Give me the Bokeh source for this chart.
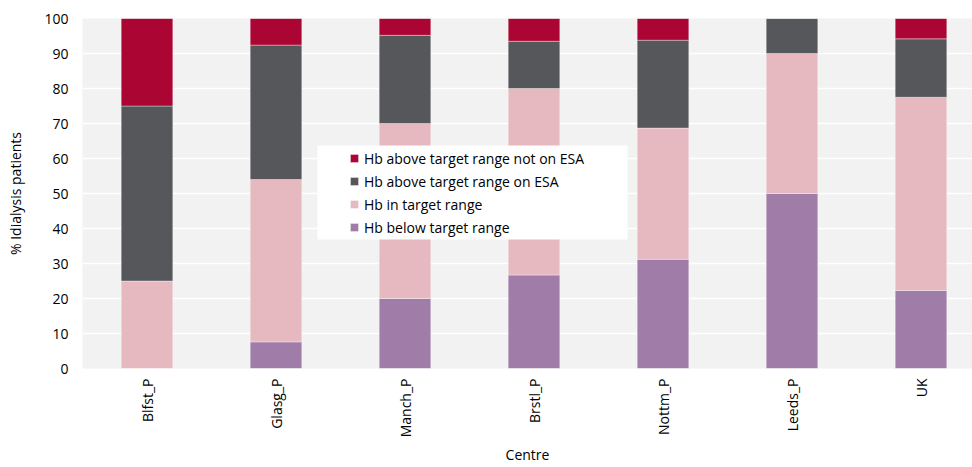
import math
from bokeh.plotting import figure
from bokeh.models import ColumnDataSource, Range1d, FixedTicker, Legend, LegendItem, BoxAnnotation
from bokeh.embed import file_html
from bokeh.resources import INLINE

centres = ["Blfst_P", "Glasg_P", "Manch_P", "Brstl_P", "Nottm_P", "Leeds_P", "UK"]
below = [0, 7.6, 20, 26.7, 31.2, 50, 22.3]
in_range = [25, 46.4, 50, 53.3, 37.5, 40, 55.2]
above_esa = [50, 38.4, 25.2, 13.5, 25.1, 10, 16.7]
above_not_esa = [25, 7.6, 4.8, 6.5, 6.2, 0, 5.8]
y_ticks = [0, 10, 20, 30, 40, 50, 60, 70, 80, 90, 100]

series_names = ["below", "in_range", "above_esa", "above_not_esa"]
series_labels = ["Hb below target range", "Hb in target range",
                 "Hb above target range on ESA", "Hb above target range not on ESA"]
colors = ["#A07CA8", "#E5B9BF", "#56575B", "#AB0534"]

xpos = [i + 0.5 for i in range(len(centres))]
source = ColumnDataSource(dict(x=xpos, below=below, in_range=in_range,
                               above_esa=above_esa, above_not_esa=above_not_esa))

FONT = "Open Sans"

p = figure(width=972, height=467, output_backend="svg", toolbar_location=None,
           x_range=Range1d(0, 890 / 129), y_range=Range1d(0, 100),
           min_border_left=82, min_border_right=0, min_border_top=18, min_border_bottom=99)

renderers = p.vbar_stack(series_names, x="x", width=0.4, source=source, color=colors,
                         line_color="white", line_alpha=0.35, line_width=1)

p.background_fill_color = "#F2F2F2"
p.border_fill_color = "white"
p.outline_line_color = None
p.xgrid.grid_line_color = None
p.ygrid.grid_line_color = "white"
p.ygrid.grid_line_width = 1.5

p.yaxis.ticker = FixedTicker(ticks=y_ticks)
p.xaxis.ticker = FixedTicker(ticks=xpos)
p.xaxis.major_label_overrides = {x: c for x, c in zip(xpos, centres)}
p.xaxis.major_label_orientation = math.pi / 2

for ax in (p.xaxis[0], p.yaxis[0]):
    ax.axis_line_color = None
    ax.major_tick_line_color = None
    ax.minor_tick_line_color = None
    ax.major_tick_out = 0
    ax.major_tick_in = 0
    ax.major_label_text_font = FONT
    ax.major_label_text_font_size = "14px"
    ax.major_label_text_color = "#000000"
    ax.axis_label_text_font = FONT
    ax.axis_label_text_font_size = "14px"
    ax.axis_label_text_font_style = "normal"
    ax.axis_label_text_color = "#000000"

p.yaxis.major_label_standoff = 14
p.xaxis.major_label_standoff = 10
p.yaxis.axis_label = "% Idialysis patients"
p.yaxis.axis_label_standoff = 16
p.xaxis.axis_label = "Centre"
p.xaxis.axis_label_standoff = 5

# white legend panel (Excel-style, wider than the entries)
legend_box = BoxAnnotation(left=317, right=627, top=145, bottom=239,
                           left_units="canvas", right_units="canvas",
                           top_units="canvas", bottom_units="canvas",
                           fill_color="white", fill_alpha=1.0, line_color=None)
p.add_layout(legend_box)

items = [LegendItem(label=series_labels[i], renderers=[renderers[i]]) for i in [3, 2, 1, 0]]
legend = Legend(items=items, location=(267, 131), padding=10, spacing=3,
                glyph_width=10, glyph_height=10, label_height=20, label_standoff=5,
                label_text_font=FONT, label_text_font_size="14px", label_text_color="#000000",
                background_fill_color="white", background_fill_alpha=1.0,
                border_line_color=None)
p.add_layout(legend, "center")

open("out.html", "w").write(file_html(p, INLINE))
